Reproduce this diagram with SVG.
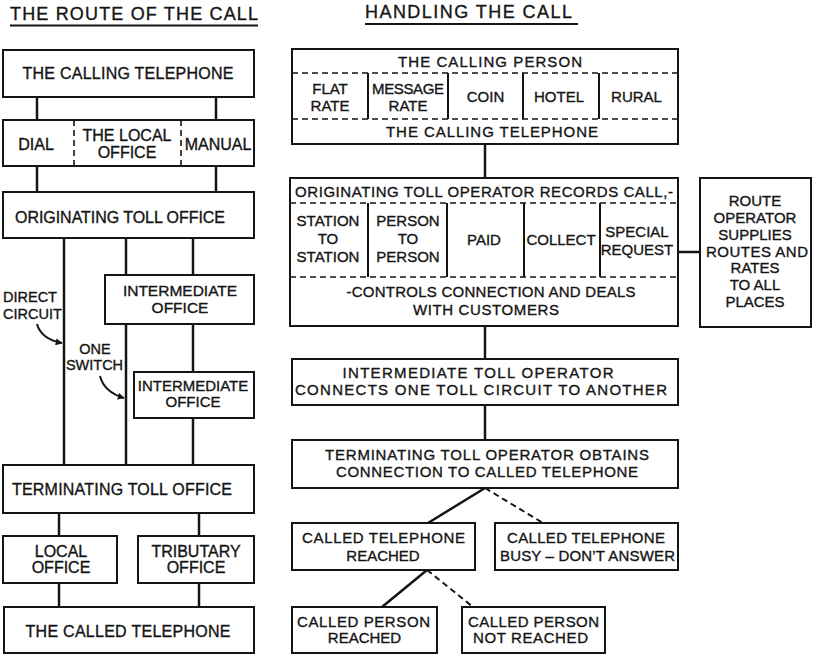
<svg xmlns="http://www.w3.org/2000/svg" width="816" height="656" viewBox="0 0 816 656">
<style>
.box{fill:#fff;stroke:#151515;stroke-width:2}
.c{stroke:#151515;stroke-width:2.5;fill:none}
.d{stroke:#151515;stroke-width:1.6;stroke-dasharray:6 4;fill:none}
.v{stroke:#151515;stroke-width:2;fill:none}
text{font-family:"Liberation Sans",Arial,sans-serif;fill:#151515;stroke:#151515;stroke-width:0.35;text-anchor:middle}
.L{font-size:16px}
.R{font-size:15px}
.t{font-size:18px;text-anchor:start}
.s{font-size:14.5px}
</style>
<defs>
<marker id="ah" viewBox="0 0 10 10" refX="9" refY="5" markerWidth="7" markerHeight="7" orient="auto" markerUnits="userSpaceOnUse">
<path d="M0,0 L10,5 L0,10 z" fill="#151515"/>
</marker>
</defs>
<rect width="816" height="656" fill="#fff"/>
<g id="titles">
<text class="t" x="10" y="20" textLength="248">THE ROUTE OF THE CALL</text>
<line class="v" x1="10" y1="25.5" x2="258" y2="25.5"/>
<text class="t" x="365" y="18" textLength="207">HANDLING THE CALL</text>
<line class="v" x1="365" y1="24" x2="578" y2="24"/>
</g>
<g id="connectors">
<line class="c" x1="37" y1="97" x2="37" y2="120"/>
<line class="c" x1="216" y1="97" x2="216" y2="120"/>
<line class="c" x1="37" y1="166" x2="37" y2="192"/>
<line class="c" x1="216" y1="166" x2="216" y2="192"/>
<line class="c" x1="64" y1="238" x2="64" y2="465"/>
<line class="c" x1="126" y1="238" x2="126" y2="275"/>
<line class="c" x1="126" y1="324" x2="126" y2="465"/>
<line class="c" x1="193" y1="238" x2="193" y2="275"/>
<line class="c" x1="193" y1="324" x2="193" y2="372"/>
<line class="c" x1="193" y1="418" x2="193" y2="465"/>
<line class="c" x1="59" y1="513" x2="59" y2="536"/>
<line class="c" x1="199" y1="513" x2="199" y2="536"/>
<line class="c" x1="59" y1="583" x2="59" y2="607"/>
<line class="c" x1="199" y1="583" x2="199" y2="607"/>
<path class="v" d="M37,324 Q41,339 62,343" marker-end="url(#ah)"/>
<path class="v" d="M100,376 Q104,392 124,398" marker-end="url(#ah)"/>
<line class="c" x1="485" y1="144" x2="485" y2="178"/>
<line class="c" x1="485" y1="326" x2="485" y2="359"/>
<line class="c" x1="485" y1="405" x2="485" y2="440"/>
<line class="c" x1="678" y1="252" x2="700" y2="252"/>
<line class="c" x1="485" y1="488" x2="428" y2="523"/>
<line class="d" x1="485" y1="488" x2="543" y2="523" style="stroke-width:2"/>
<line class="c" x1="427" y1="570" x2="382" y2="607"/>
<line class="d" x1="427" y1="570" x2="473" y2="607" style="stroke-width:2"/>
</g>
<g id="calling-telephone">
<rect class="box" x="3" y="50" width="251" height="47"/>
<text class="L" x="128" y="79" textLength="211">THE CALLING TELEPHONE</text>
</g>
<g id="local-office">
<rect class="box" x="3" y="120" width="251" height="46"/>
<line class="d" x1="74" y1="120" x2="74" y2="166"/>
<line class="d" x1="181" y1="120" x2="181" y2="166"/>
<text class="L" x="36" y="150">DIAL</text>
<text class="L" x="127" y="141">THE LOCAL</text>
<text class="L" x="127" y="158">OFFICE</text>
<text class="L" x="218" y="150">MANUAL</text>
</g>
<g id="originating-toll-office">
<rect class="box" x="3" y="192" width="251" height="46"/>
<text class="L" x="120" y="223" textLength="210">ORIGINATING TOLL OFFICE</text>
</g>
<g id="intermediate-1">
<rect class="box" x="105" y="275" width="149" height="49"/>
<text class="L" x="180" y="296" style="font-size:15.5px">INTERMEDIATE</text>
<text class="L" x="180" y="313" style="font-size:15.5px">OFFICE</text>
</g>
<g id="intermediate-2">
<rect class="box" x="134" y="372" width="120" height="46"/>
<text class="L" x="193" y="391" style="font-size:15px">INTERMEDIATE</text>
<text class="L" x="193" y="407" style="font-size:15px">OFFICE</text>
</g>
<g id="labels">
<text class="s" x="3" y="302" style="text-anchor:start">DIRECT</text>
<text class="s" x="3" y="319" style="text-anchor:start">CIRCUIT</text>
<text class="s" x="95" y="354">ONE</text>
<text class="s" x="94.5" y="370">SWITCH</text>
</g>
<g id="terminating-toll-office">
<rect class="box" x="3" y="465" width="251" height="48"/>
<text class="L" x="122" y="495" textLength="220">TERMINATING TOLL OFFICE</text>
</g>
<g id="local-office-2">
<rect class="box" x="3" y="536" width="114" height="47"/>
<text class="L" x="61" y="557">LOCAL</text>
<text class="L" x="61" y="573">OFFICE</text>
</g>
<g id="tributary-office">
<rect class="box" x="138" y="536" width="116" height="47"/>
<text class="L" x="196" y="557">TRIBUTARY</text>
<text class="L" x="196" y="573">OFFICE</text>
</g>
<g id="called-telephone">
<rect class="box" x="4" y="607" width="250" height="46"/>
<text class="L" x="128" y="637" textLength="205">THE CALLED TELEPHONE</text>
</g>
<g id="calling-person">
<rect class="box" x="292" y="49" width="386" height="95"/>
<line class="d" x1="292" y1="73" x2="678" y2="73"/>
<line class="d" x1="292" y1="119" x2="678" y2="119"/>
<line class="v" x1="368" y1="73" x2="368" y2="119"/>
<line class="v" x1="448" y1="73" x2="448" y2="119"/>
<line class="v" x1="523" y1="73" x2="523" y2="119"/>
<line class="v" x1="599" y1="73" x2="599" y2="119"/>
<text class="R" x="490" y="67" textLength="184">THE CALLING PERSON</text>
<text class="R" x="330" y="94">FLAT</text>
<text class="R" x="330" y="111">RATE</text>
<text class="R" x="408" y="94" textLength="72">MESSAGE</text>
<text class="R" x="408" y="111">RATE</text>
<text class="R" x="485.5" y="102">COIN</text>
<text class="R" x="559" y="102">HOTEL</text>
<text class="R" x="636.5" y="102">RURAL</text>
<text class="R" x="492" y="137" textLength="212">THE CALLING TELEPHONE</text>
</g>
<g id="originating-operator">
<rect class="box" x="290" y="178" width="388" height="148"/>
<line class="d" x1="290" y1="203" x2="678" y2="203"/>
<line class="d" x1="290" y1="277" x2="678" y2="277"/>
<line class="v" x1="368" y1="203" x2="368" y2="277"/>
<line class="v" x1="447" y1="203" x2="447" y2="277"/>
<line class="v" x1="524" y1="203" x2="524" y2="277"/>
<line class="v" x1="600" y1="203" x2="600" y2="277"/>
<text class="R" x="295" y="197" textLength="378" style="text-anchor:start">ORIGINATING TOLL OPERATOR RECORDS CALL,-</text>
<text class="R" x="328" y="226">STATION</text>
<text class="R" x="328" y="244">TO</text>
<text class="R" x="328" y="262">STATION</text>
<text class="R" x="408" y="226">PERSON</text>
<text class="R" x="408" y="244">TO</text>
<text class="R" x="408" y="262">PERSON</text>
<text class="R" x="484" y="245">PAID</text>
<text class="R" x="561" y="245">COLLECT</text>
<text class="R" x="637" y="237">SPECIAL</text>
<text class="R" x="637" y="255">REQUEST</text>
<text class="R" x="491" y="297" textLength="289">-CONTROLS CONNECTION AND DEALS</text>
<text class="R" x="486" y="315" textLength="146">WITH CUSTOMERS</text>
</g>
<g id="route-operator">
<rect class="box" x="700" y="178" width="111" height="149"/>
<text class="R" x="755" y="206">ROUTE</text>
<text class="R" x="755" y="223">OPERATOR</text>
<text class="R" x="755" y="240">SUPPLIES</text>
<text class="R" x="757" y="257" textLength="102">ROUTES AND</text>
<text class="R" x="755" y="273">RATES</text>
<text class="R" x="755" y="290">TO ALL</text>
<text class="R" x="755" y="307">PLACES</text>
</g>
<g id="intermediate-operator">
<rect class="box" x="292" y="359" width="386" height="46"/>
<text class="R" x="478" y="378" textLength="271">INTERMEDIATE TOLL OPERATOR</text>
<text class="R" x="481" y="395" textLength="372">CONNECTS ONE TOLL CIRCUIT TO ANOTHER</text>
</g>
<g id="terminating-operator">
<rect class="box" x="292" y="440" width="386" height="48"/>
<text class="R" x="487" y="460" textLength="324">TERMINATING TOLL OPERATOR OBTAINS</text>
<text class="R" x="487" y="477" textLength="302">CONNECTION TO CALLED TELEPHONE</text>
</g>
<g id="telephone-reached">
<rect class="box" x="292" y="523" width="183" height="47"/>
<text class="R" x="383.5" y="543" textLength="163">CALLED TELEPHONE</text>
<text class="R" x="383" y="561">REACHED</text>
</g>
<g id="telephone-busy">
<rect class="box" x="495" y="523" width="183" height="47"/>
<text class="R" x="586" y="543" textLength="158">CALLED TELEPHONE</text>
<text class="R" x="587.5" y="561" textLength="175">BUSY – DON’T ANSWER</text>
</g>
<g id="person-reached">
<rect class="box" x="292" y="607" width="145" height="46"/>
<text class="R" x="363.5" y="627" textLength="133">CALLED PERSON</text>
<text class="R" x="364.5" y="643">REACHED</text>
</g>
<g id="person-not-reached">
<rect class="box" x="462" y="607" width="143" height="46"/>
<text class="R" x="533.5" y="627" textLength="131">CALLED PERSON</text>
<text class="R" x="530.5" y="643" textLength="115">NOT REACHED</text>
</g>
</svg>
